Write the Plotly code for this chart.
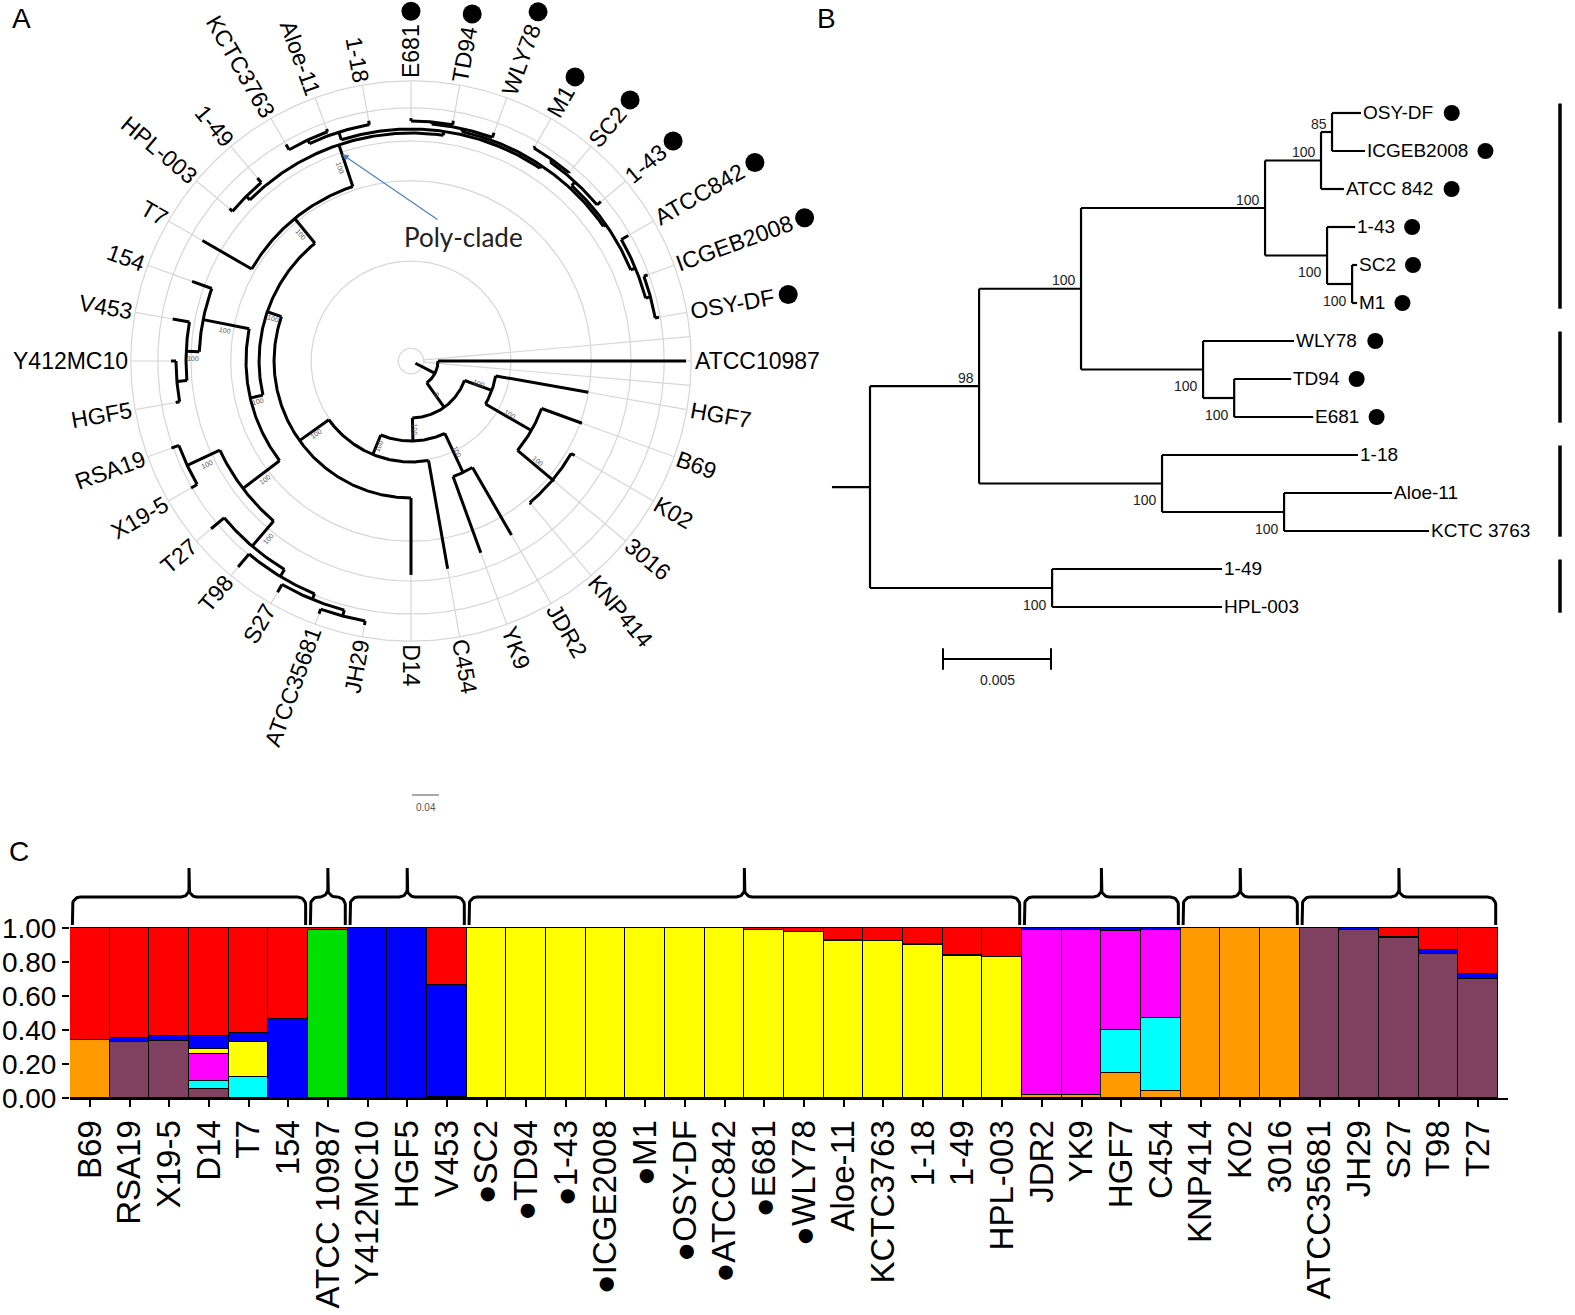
import re
import math
import numpy as np
import plotly.graph_objects as go

W, H = 1575, 1315
FONT = "Liberation Sans, Arial, sans-serif"

# ---------------- DATA ----------------
# Panel A: circular tree (branch lengths in substitutions/site, internal labels = bootstrap)
TREE_A = ("(ATCC10987:0.3674,((HGF7:0.1393,(B69:0.0637,(K02:0.0059,3016:0.0030,KNP414:0.0030)100:0.0681)100:0.0785)100:0.0430,"
          "((JDR2:0.1156,YK9:0.1200)100:0.0637,(C454:0.1630,(D14:0.1141,(((((((JH29:0.0059,ATCC35681:0.0074)100:0.0089,S27:0.0133)100:0.0089,"
          "T98:0.0252)100:0.0119,T27:0.0252)100:0.0489,(X19-5:0.0104,RSA19:0.0119)100:0.0533)100:0.0681,(((HGF5:0.0059,Y412MC10:0.0074)100:0.0148,"
          "V453:0.0252)100:0.0193,154:0.0311)100:0.0696)100:0.0193,(T7:0.0844,((HPL-003:0.0059,1-49:0.0089)100:0.0074,(((KCTC3763:0.0089,"
          "Aloe-11:0.0044)100:0.0059,1-18:0.0059)100:0.0119,(((E681:0.0044,TD94:0.0059)100:0.0030,WLY78:0.0074)100:0.0044,(((M1:0.0030,"
          "SC2:0.0015)100:0.0044,1-43:0.0074)100:0.0074,(ATCC842:0.0119,(ICGEB2008:0.0059,OSY-DF:0.0059)85:0.0074)100:0.0074)100:0.0044)100:0.0044)"
          "100:0.0059)100:0.0652)100:0.0474)100:0.0222)100:0.0533)100:0.0311)100:0.0341)0:0.0444):0.0326;")
A_MARKED = ["E681", "TD94", "WLY78", "M1", "SC2", "1-43", "ATCC842", "ICGEB2008", "OSY-DF"]
A_GUIDE_RINGS = [0.019, 0.148, 0.267, 0.326, 0.375, 0.415]
A_SCALE_BAR = 0.04

# Panel B: rectangular tree
TREE_B = ("((((((OSY-DF:0.00134,ICGEB2008:0.00153)85:0.00051,ATCC_842:0.00106)100:0.00259,(1-43:0.00130,(SC2:0.00023,M1:0.00023)100:0.00116)100:0.00287)100:0.00852,"
          "(WLY78:0.00421,(TD94:0.00264,E681:0.00366)100:0.00144)100:0.00565)100:0.00472,(1-18:0.00907,(Aloe-11:0.00500,KCTC_3763:0.00671)100:0.00565)100:0.00847)98:0.00505,"
          "(1-49:0.00787,HPL-003:0.00787)100:0.00843):0.00176;")
B_MARKED = ["OSY-DF", "ICGEB2008", "ATCC 842", "1-43", "SC2", "M1", "WLY78", "TD94", "E681"]
B_GROUPS = [["OSY-DF", "ICGEB2008", "ATCC 842", "1-43", "SC2", "M1"],
            ["WLY78", "TD94", "E681"],
            ["1-18", "Aloe-11", "KCTC 3763"],
            ["1-49", "HPL-003"]]
B_SCALE_BAR = 0.005

# Panel C: STRUCTURE membership
C_STRAINS = ["B69", "RSA19", "X19-5", "D14", "T7", "154", "ATCC 10987", "Y412MC10", "HGF5", "V453",
             "SC2", "TD94", "1-43", "ICGE2008", "M1", "OSY-DF", "ATCC842", "E681", "WLY78",
             "Aloe-11", "KCTC3763", "1-18", "1-49", "HPL-003", "JDR2", "YK9", "HGF7", "C454",
             "KNP414", "K02", "3016", "ATCC35681", "JH29", "S27", "T98", "T27"]
C_MARKED = ["SC2", "TD94", "1-43", "ICGE2008", "M1", "OSY-DF", "ATCC842", "E681", "WLY78"]
C_ORANGE = [.34, 0, 0, 0, 0, 0, 0, 0, 0, 0, 0, 0, 0, 0, 0, 0, 0, 0, 0, 0, 0, 0, 0, 0,
            .02, .015, .15, .043, 1, 1, 1, 0, 0, 0, 0, 0]
C_PURPLE = [0, .33, .335, .055, 0, 0, 0, 0, 0, .005, 0, 0, 0, 0, 0, 0, 0, 0, 0, 0, 0, 0, 0, 0,
            0, 0, 0, 0, 0, 0, 0, 1, .99, .94, .85, .70]
C_CYAN = [0, 0, 0, .045, .125, 0, 0, 0, 0, 0, 0, 0, 0, 0, 0, 0, 0, 0, 0, 0, 0, 0, 0, 0,
          0, 0, .25, .43, 0, 0, 0, 0, 0, 0, 0, 0]
C_MAGENTA = [0, 0, 0, .16, 0, 0, 0, 0, 0, 0, 0, 0, 0, 0, 0, 0, 0, 0, 0, 0, 0, 0, 0, 0,
             .97, .975, .585, .513, 0, 0, 0, 0, 0, 0, 0, 0]
C_YELLOW = [0, 0, 0, .03, .205, 0, 0, 0, 0, 0, 1, 1, 1, 1, 1, 1, 1, .99, .977, .925, .925, .898, .835, .828,
            0, 0, 0, 0, 0, 0, 0, 0, 0, 0, 0, 0]
C_GREEN = [0, 0, 0, 0, 0, 0, .99, 0, 0, 0, 0, 0, 0, 0, 0, 0, 0, 0, 0, 0, 0, 0, 0, 0,
           0, 0, 0, 0, 0, 0, 0, 0, 0, 0, 0, 0]
C_BLUE = [0, .025, .03, .075, .05, .465, 0, 1, 1, .66, 0, 0, 0, 0, 0, 0, 0, 0, 0, .005, 0, .007, .005, 0,
          .01, .01, .015, .014, 0, 0, 0, 0, .01, .005, .02, .03]
C_RED = [.66, .645, .635, .635, .62, .535, .01, 0, 0, .335, 0, 0, 0, 0, 0, 0, 0, .01, .023, .07, .075, .095, .16, .172,
         0, 0, 0, 0, 0, 0, 0, 0, 0, .055, .13, .27]
C_GROUPS = [(0, 5), (6, 6), (7, 9), (10, 23), (24, 27), (28, 30), (31, 35)]
C_TICKS = [0.0, 0.2, 0.4, 0.6, 0.8, 1.0]

# ---------------- helpers ----------------
_CW = {c: 0.556 for c in "0123456789"}
_CW.update({'A': .667, 'B': .667, 'C': .722, 'D': .722, 'E': .667, 'F': .611, 'G': .778, 'H': .722, 'I': .278,
            'J': .5, 'K': .667, 'L': .556, 'M': .833, 'N': .722, 'O': .778, 'P': .667, 'R': .722, 'S': .667,
            'T': .611, 'V': .667, 'W': .944, 'X': .667, 'Y': .667, '-': .333, ' ': .278, '.': .278,
            'e': .556, 'l': .222, 'o': .556})


def text_w(s, size):
    return sum(_CW.get(c, 0.556) for c in s) * size


def parse_newick(s):
    if s.count("(") != s.count(")"):
        raise ValueError("unbalanced newick")
    pos = 0

    def parse():
        nonlocal pos
        node = {"children": [], "name": "", "len": 0.0}
        if s[pos] == '(':
            pos += 1
            while True:
                before = pos
                node["children"].append(parse())
                if s[pos] == ',':
                    pos += 1
                    continue
                if s[pos] == ')':
                    pos += 1
                    break
                if pos == before:
                    raise ValueError("newick parse error at %d" % pos)
        m = re.match(r"[^:,();]*", s[pos:])
        node["name"] = m.group(0).replace("_", " ")
        pos += len(m.group(0))
        if pos < len(s) and s[pos] == ':':
            pos += 1
            m = re.match(r"[0-9.eE+\-]+", s[pos:])
            node["len"] = float(m.group(0))
            pos += len(m.group(0))
        return node
    return parse()


def layout(node, depth, leaves):
    node["start"] = depth
    node["depth"] = depth + node["len"]
    if not node["children"]:
        node["pos"] = len(leaves)
        leaves.append(node)
    else:
        for c in node["children"]:
            layout(c, node["depth"], leaves)
        node["pos"] = (node["children"][0]["pos"] + node["children"][-1]["pos"]) / 2.0


def walk(node, parent=None):
    yield node, parent
    for c in node["children"]:
        yield from walk(c, node)


def norm(a):
    a = a % 360
    return a - 360 if a > 180 else a


fig = go.Figure()
ann = []

# ================= PANEL A =================
A_PX = 675.0           # pixels per substitution unit
A_CX, A_CY = 411, 361  # centre in pixels
A_BOX = (0, 820, 0, 830)  # x0, x1, y0(top), y1(bottom) in px
rootA = parse_newick(TREE_A)
leavesA = []
layout(rootA, 0.0074, leavesA)
stepA = 360.0 / len(leavesA)


def ang(n):
    return -stepA * n["pos"]


def P(r, th):
    t = math.radians(th)
    return r * math.cos(t), r * math.sin(t)


rim = A_GUIDE_RINGS[-1]
gx, gy = [], []
for rr in A_GUIDE_RINGS:
    t = np.linspace(0, 2 * np.pi, 361)
    gx += list(rr * np.cos(t)) + [None]
    gy += list(rr * np.sin(t)) + [None]
for lf in leavesA:
    x0, y0 = P(lf["depth"], ang(lf))
    x1, y1 = P(rim, ang(lf))
    gx += [x0, x1, None]
    gy += [y0, y1, None]
for d in (-0.5, 0.5):
    th = ang(leavesA[0]) + d * stepA
    x0, y0 = P(A_GUIDE_RINGS[0], th)
    x1, y1 = P(rim, th)
    gx += [x0, x1, None]
    gy += [y0, y1, None]
fig.add_trace(go.Scatter(x=gx, y=gy, mode="lines", line=dict(color="#d6d6d6", width=1.2),
                         hoverinfo="skip", xaxis="x", yaxis="y"))

bx, by = [], []
for node, parent in walk(rootA):
    th = ang(node)
    x0, y0 = P(node["start"], th)
    x1, y1 = P(node["depth"], th)
    bx += [x0, x1, None]
    by += [y0, y1, None]
    if node["children"]:
        a0, a1 = ang(node["children"][0]), ang(node["children"][-1])
        n = max(2, int(abs(a1 - a0) / 0.5) + 1)
        ts = np.linspace(a0, a1, n)
        for t in ts:
            xx, yy = P(node["depth"], t)
            bx.append(xx)
            by.append(yy)
        bx.append(None)
        by.append(None)
    if parent is not None and node["children"] and node["name"] and node["len"] * A_PX >= 12:
        rm = node["start"] + node["len"] * 0.5
        xx, yy = P(rm, th + 1.8)
        a = norm(th)
        ta = -a if -90 <= a <= 90 else norm(180 - a)
        ann.append(dict(x=xx, y=yy, xref="x", yref="y", text=node["name"], showarrow=False,
                        textangle=ta, font=dict(size=7, color="#555", family=FONT)))
fig.add_trace(go.Scatter(x=bx, y=by, mode="lines", line=dict(color="black", width=3),
                         hoverinfo="skip", xaxis="x", yaxis="y"))

A_LABEL_R = rim + 3 / A_PX
A_FS = 23
dx, dy = [], []
for lf in leavesA:
    th = ang(lf)
    w = text_w(lf["name"], A_FS)
    rc = A_LABEL_R + (w / 2) / A_PX
    xx, yy = P(rc, th)
    a = norm(th)
    ta = -a if -90 <= a <= 90 else norm(180 - a)
    ann.append(dict(x=xx, y=yy, xref="x", yref="y", text=lf["name"], showarrow=False,
                    textangle=ta, xanchor="center", yanchor="middle",
                    font=dict(size=A_FS, color="black", family=FONT)))
    if lf["name"] in A_MARKED:
        xx, yy = P(A_LABEL_R + (w + 13) / A_PX, th)
        dx.append(xx)
        dy.append(yy)
fig.add_trace(go.Scatter(x=dx, y=dy, mode="markers", marker=dict(color="black", size=19),
                         hoverinfo="skip", xaxis="x", yaxis="y"))


def find_mrca(root, names):
    best = None
    for node, _ in walk(root):
        ln = {n["name"] for n, _ in walk(node) if not n["children"]}
        if set(names) <= ln:
            best = node
    return best


polyA = find_mrca(rootA, ["HPL-003", "OSY-DF"])
hx, hy = P(polyA["depth"] - 10 / A_PX, ang(polyA))
ann.append(dict(x=hx, y=hy, xref="x", yref="y", ax=(463 - A_CX) / A_PX, ay=(A_CY - 237) / A_PX,
                axref="x", ayref="y", text="Poly-clade", showarrow=True, arrowhead=2, arrowsize=1.1,
                arrowwidth=1.2, arrowcolor="#4F81BD",
                font=dict(size=26, color="#222", family="Lato, Open Sans, sans-serif")))

sbx0 = (412 - A_CX) / A_PX
sby = (A_CY - 795) / A_PX
fig.add_trace(go.Scatter(x=[sbx0, sbx0 + A_SCALE_BAR], y=[sby, sby], mode="lines",
                         line=dict(color="#777", width=1.3), hoverinfo="skip", xaxis="x", yaxis="y"))
ann.append(dict(x=sbx0 + A_SCALE_BAR / 2, y=sby - 12 / A_PX, xref="x", yref="y", text="0.04", showarrow=False,
                font=dict(size=10, color="#555", family=FONT)))

# ================= PANEL B =================
B_PX = 21600.0
B_ROOTX = 870
B_Y0, B_DY = 113, 38.0
rootB = parse_newick(TREE_B)
leavesB = []
layout(rootB, -rootB["len"], leavesB)
lx, ly = [], []
for node, parent in walk(rootB):
    lx += [node["start"], node["depth"], None]
    ly += [node["pos"], node["pos"], None]
    if node["children"]:
        lx += [node["depth"], node["depth"], None]
        ly += [node["children"][0]["pos"], node["children"][-1]["pos"], None]
    if parent is not None and node["children"] and node["name"]:
        first = parent["children"][0] is node
        ann.append(dict(x=node["depth"] - 3 / B_PX, y=node["pos"] + (-0.22 if first else 0.44),
                        xref="x2", yref="y2", text=node["name"], showarrow=False, xanchor="right",
                        yanchor="middle", font=dict(size=14, color="#222", family=FONT)))
fig.add_trace(go.Scatter(x=lx, y=ly, mode="lines", line=dict(color="black", width=2.2),
                         hoverinfo="skip", xaxis="x2", yaxis="y2"))
B_FS = 19
bdx, bdy = [], []
for lf in leavesB:
    ann.append(dict(x=lf["depth"], y=lf["pos"], xref="x2", yref="y2", text=lf["name"], showarrow=False,
                    xanchor="left", yanchor="middle", font=dict(size=B_FS, color="black", family=FONT)))
    if lf["name"] in B_MARKED:
        bdx.append(lf["depth"] + (4 + text_w(lf["name"], B_FS) + 15) / B_PX)
        bdy.append(lf["pos"])
fig.add_trace(go.Scatter(x=bdx, y=bdy, mode="markers", marker=dict(color="black", size=16),
                         hoverinfo="skip", xaxis="x2", yaxis="y2"))
bxr = [(820 - B_ROOTX) / B_PX, (1575 - B_ROOTX) / B_PX]
byr = [(700 - B_Y0) / B_DY, (60 - B_Y0) / B_DY]
gbx, gby = [], []
pos_of = {lf["name"]: lf["pos"] for lf in leavesB}
for g in B_GROUPS:
    ps = [pos_of[n] for n in g]
    xg = bxr[1] - 15 / B_PX
    gbx += [xg, xg, None]
    gby += [min(ps) - 0.25, max(ps) + 0.15, None]
fig.add_trace(go.Scatter(x=gbx, y=gby, mode="lines", line=dict(color="black", width=3.5),
                         hoverinfo="skip", xaxis="x2", yaxis="y2"))
s0 = (943 - B_ROOTX) / B_PX
sy = (659 - B_Y0) / B_DY
tk = 0.28
fig.add_trace(go.Scatter(x=[s0, s0, None, s0, s0 + B_SCALE_BAR, None, s0 + B_SCALE_BAR, s0 + B_SCALE_BAR],
                         y=[sy - tk, sy + tk, None, sy, sy, None, sy - tk, sy + tk], mode="lines",
                         line=dict(color="black", width=2), hoverinfo="skip", xaxis="x2", yaxis="y2"))
ann.append(dict(x=s0 + B_SCALE_BAR / 2, y=sy + 0.55, xref="x2", yref="y2", text="0.005", showarrow=False,
                font=dict(size=14, color="#222", family=FONT)))

# ================= PANEL C =================
series = [("#FF9A00", C_ORANGE), ("#804060", C_PURPLE), ("#00FFFF", C_CYAN), ("#FF00FF", C_MAGENTA),
          ("#FFFF00", C_YELLOW), ("#00E000", C_GREEN), ("#0000FF", C_BLUE), ("#FF0000", C_RED)]
xs = list(range(len(C_STRAINS)))
for col, vals in series:
    fig.add_trace(go.Bar(x=xs, y=[v if v > 0 else None for v in vals],
                         marker=dict(color=col, line=dict(color="black", width=1)),
                         width=1.0, hoverinfo="skip", xaxis="x3", yaxis="y3"))
C_PXU = 170.0
yb, yh, yp = 1 + 3 / C_PXU, 1 + 31 / C_PXU, 1 + 60 / C_PXU
rx, ry = 0.2, 8 / C_PXU
brx, bry = [], []
for a, b in C_GROUPS:
    x0, x1 = a - 0.5 + 0.06, b + 0.5 - 0.06
    xm = (x0 + x1) / 2
    pts = [(x0, yb)]
    for t in np.linspace(np.pi, np.pi / 2, 10):
        pts.append((x0 + rx + rx * np.cos(t), yh - ry + ry * np.sin(t)))
    for t in np.linspace(-np.pi / 2, 0, 10):
        pts.append((xm - rx + rx * np.cos(t), yh + ry + ry * np.sin(t)))
    pts.append((xm, yp))
    for t in np.linspace(np.pi, 3 * np.pi / 2, 10):
        pts.append((xm + rx + rx * np.cos(t), yh + ry + ry * np.sin(t)))
    for t in np.linspace(np.pi / 2, 0, 10):
        pts.append((x1 - rx + rx * np.cos(t), yh - ry + ry * np.sin(t)))
    pts.append((x1, yb))
    brx += [p[0] for p in pts] + [None]
    bry += [p[1] for p in pts] + [None]
fig.add_trace(go.Scatter(x=brx, y=bry, mode="lines", line=dict(color="black", width=3),
                         hoverinfo="skip", xaxis="x3", yaxis="y3"))
ticktext = [("\u25CF" + s if s in C_MARKED else s) for s in C_STRAINS]


def px2fx(p):
    return p / W


def px2fy(p):
    return 1 - p / H


hid = dict(visible=False, showgrid=False, zeroline=False, fixedrange=True)
fig.update_layout(
    xaxis=dict(domain=[px2fx(A_BOX[0]), px2fx(A_BOX[1])],
               range=[(A_BOX[0] - A_CX) / A_PX, (A_BOX[1] - A_CX) / A_PX], **hid),
    yaxis=dict(domain=[px2fy(A_BOX[3]), px2fy(A_BOX[2])],
               range=[(A_CY - A_BOX[3]) / A_PX, (A_CY - A_BOX[2]) / A_PX], **hid),
    xaxis2=dict(domain=[px2fx(820), 1.0], range=bxr, anchor="y2", **hid),
    yaxis2=dict(domain=[px2fy(700), px2fy(60)], range=byr, anchor="x2", **hid),
    xaxis3=dict(domain=[px2fx(70), px2fx(1508)], range=[-0.5, 35.75], anchor="y3",
                tickmode="array", tickvals=xs, ticktext=ticktext, tickangle=-90,
                ticks="outside", ticklen=7, tickwidth=1.5, tickcolor="black",
                showline=True, linecolor="black", linewidth=2, showgrid=False, zeroline=False,
                tickfont=dict(size=33, color="black", family=FONT), automargin=False, fixedrange=True),
    yaxis3=dict(domain=[px2fy(1098), px2fy(858)], range=[0, 240 / C_PXU], anchor="x3",
                tickmode="array", tickvals=C_TICKS, ticktext=["%.2f" % v for v in C_TICKS],
                ticks="outside", ticklen=7, tickwidth=1.5, tickcolor="black",
                showline=False, showgrid=False, zeroline=False,
                tickfont=dict(size=28, color="black", family=FONT), automargin=False, fixedrange=True),
    barmode="stack", bargap=0,
    width=W, height=H, autosize=False,
    margin=dict(l=0, r=0, t=0, b=0),
    paper_bgcolor="white", plot_bgcolor="rgba(0,0,0,0)",
    showlegend=False,
    font=dict(family=FONT, color="black"),
)
for txt, x, y in (("A", 21, 19), ("B", 827, 18), ("C", 19, 851)):
    ann.append(dict(x=px2fx(x), y=px2fy(y), xref="paper", yref="paper", text=txt, showarrow=False,
                    xanchor="center", yanchor="middle",
                    font=dict(size=28, color="black", family=FONT)))
fig.update_layout(annotations=ann)

fig.write_html("out.html", config={"displayModeBar": False},
               post_script="document.body.style.margin='0';")
